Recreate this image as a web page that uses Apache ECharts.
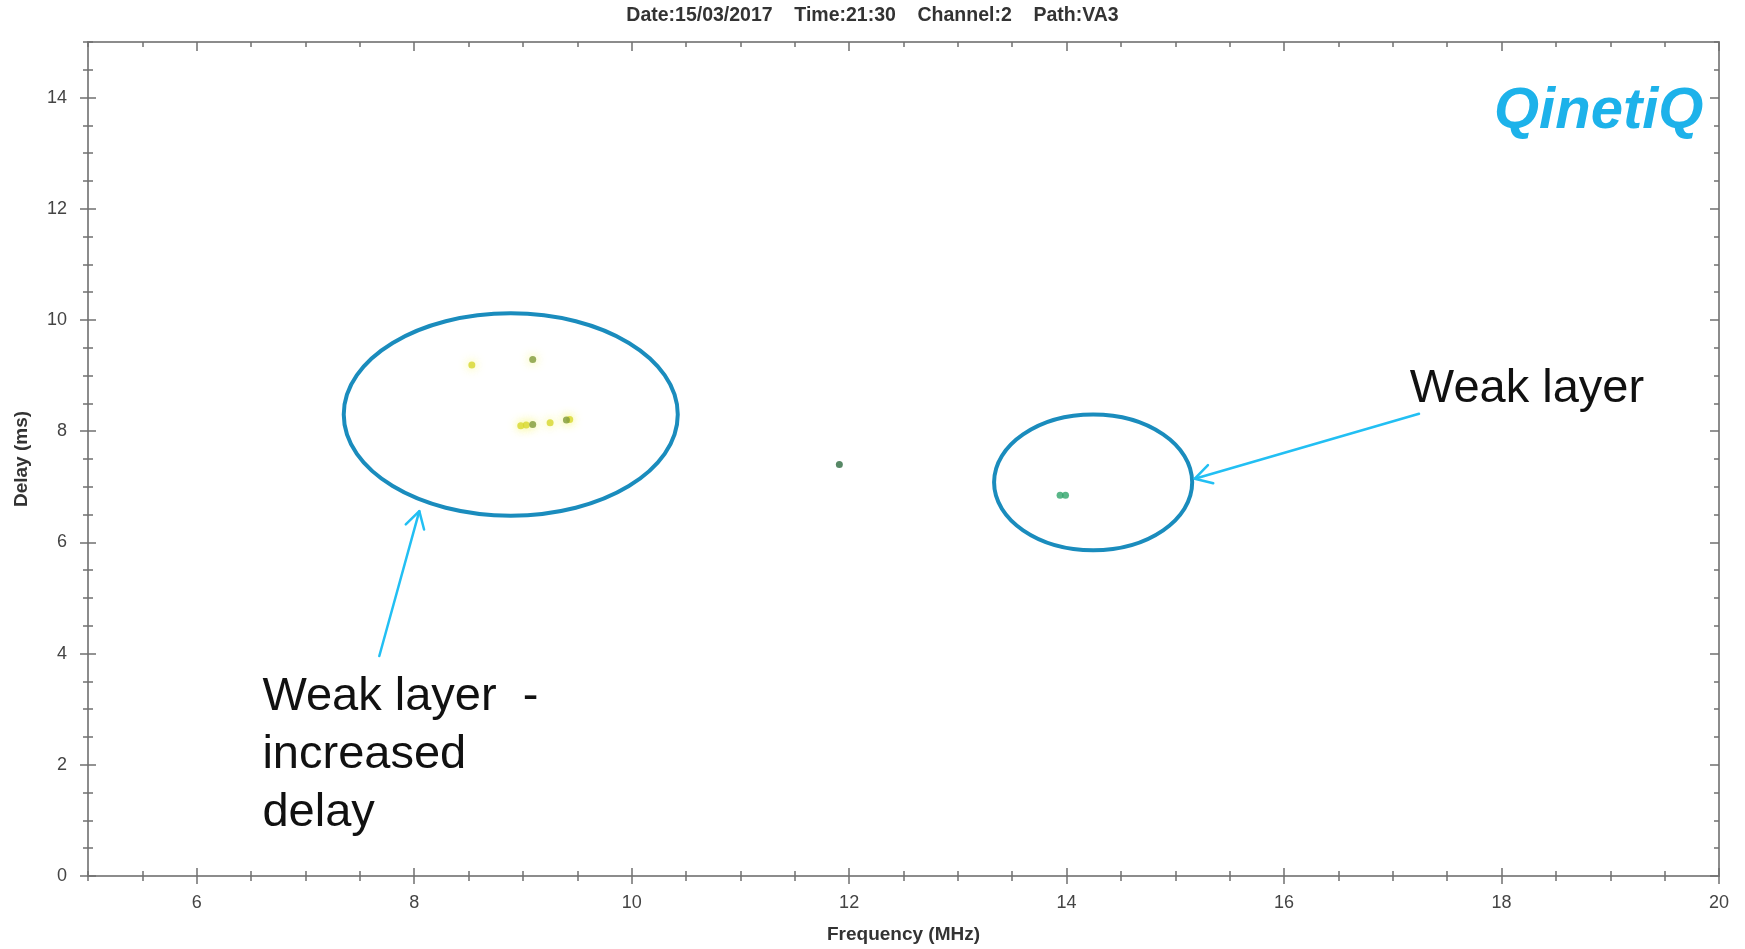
<!DOCTYPE html>
<html>
<head>
<meta charset="utf-8">
<script src="https://cdn.jsdelivr.net/npm/echarts@6/dist/echarts.min.js"></script>
<style>
html,body{margin:0;padding:0;background:#fff;}
#chart{width:1745px;height:949px;}
</style>
</head>
<body>
<div id="chart"></div>
<script>
// ---- data ----
const titleText = 'Date:15/03/2017    Time:21:30    Channel:2    Path:VA3';
const xTickLabels = [6, 8, 10, 12, 14, 16, 18, 20];
const yTickLabels = [0, 2, 4, 6, 8, 10, 12, 14];
const freqYellow = [8.53, 8.98, 9.03, 9.25, 9.43];
const delayYellow = [9.19, 8.10, 8.11, 8.15, 8.21];
const freqOlive = [9.09, 9.09, 9.40];
const delayOlive = [9.29, 8.12, 8.20];
const freqGreen = [11.91];
const delayGreen = [7.40];
const freqTeal = [13.94, 13.99];
const delayTeal = [6.85, 6.85];

// annotations in data units
const ellipses = [
  { cx: 8.888, cy: 8.30, rx: 1.536, ry: 1.82 },
  { cx: 14.244, cy: 7.08, rx: 0.911, ry: 1.22 }
];
const arrows = [
  { from: [7.679, 3.957], to: [8.047, 6.562] },
  { from: [17.241, 8.313], to: [15.179, 7.145] }
];
const notes = [
  { x: 17.157, y: 8.767, text: 'Weak layer' },
  { x: 6.604, y: 3.215, text: 'Weak layer  -' },
  { x: 6.604, y: 2.172, text: 'increased' },
  { x: 6.604, y: 1.130, text: 'delay' }
];

const FONT = '"Liberation Sans", Arial, sans-serif';
const zip = (a, b) => a.map((v, i) => [v, b[i]]);

const lineColor = '#8c8c8c';
const tickColor = '#707070';

function baseAxis(min, max, extra) {
  return Object.assign({
    type: 'value', min: min, max: max, interval: 0.5,
    splitLine: { show: false },
    axisLine: { show: false, onZero: false },
    axisTick: { show: false },
    axisLabel: { show: false }
  }, extra);
}
function tickStyle(len, inside, custom) {
  const t = { show: true, length: len, inside: inside, lineStyle: { color: tickColor, width: 1.5 } };
  if (custom) t.customValues = custom;
  return t;
}

const xAxes = [
  baseAxis(5, 20, {
    position: 'bottom',
    axisLine: { show: true, onZero: false, lineStyle: { color: lineColor, width: 2 } },
    axisLabel: { show: true, customValues: xTickLabels, color: '#444', fontSize: 18, margin: 18, fontFamily: FONT },
    name: 'Frequency (MHz)', nameLocation: 'middle', nameGap: 49,
    nameTextStyle: { fontWeight: 'bold', fontSize: 19, color: '#333', fontFamily: FONT }
  }),
  baseAxis(5, 20, { position: 'bottom', offset: -8, axisTick: tickStyle(16, false, xTickLabels) }),
  baseAxis(5, 20, { position: 'bottom', offset: -5, axisTick: tickStyle(10, false) }),
  baseAxis(5, 20, {
    position: 'top',
    axisLine: { show: true, onZero: false, lineStyle: { color: lineColor, width: 2 } },
    axisTick: tickStyle(5, true)
  }),
  baseAxis(5, 20, { position: 'top', axisTick: tickStyle(9, true, xTickLabels) })
];
const yAxes = [
  baseAxis(0, 15, {
    position: 'left',
    axisLine: { show: true, onZero: false, lineStyle: { color: lineColor, width: 2 } },
    axisLabel: { show: true, customValues: yTickLabels, color: '#444', fontSize: 18, margin: 21, fontFamily: FONT },
    name: 'Delay (ms)', nameLocation: 'middle', nameGap: 57,
    nameTextStyle: { fontWeight: 'bold', fontSize: 19, color: '#333', fontFamily: FONT }
  }),
  baseAxis(0, 15, { position: 'left', offset: -8, axisTick: tickStyle(16, false, yTickLabels) }),
  baseAxis(0, 15, { position: 'left', offset: -5, axisTick: tickStyle(10, false) }),
  baseAxis(0, 15, {
    position: 'right',
    axisLine: { show: true, onZero: false, lineStyle: { color: lineColor, width: 2 } },
    axisTick: tickStyle(5, true)
  }),
  baseAxis(0, 15, { position: 'right', axisTick: tickStyle(9, true, yTickLabels) })
];

const chart = echarts.init(document.getElementById('chart'));
chart.setOption({
  animation: false,
  backgroundColor: '#fff',
  title: {
    text: titleText, left: 'center', top: 6, padding: 0,
    textStyle: { fontSize: 19.5, fontWeight: 'bold', color: '#333', fontFamily: FONT }
  },
  grid: { left: 88, right: 26, top: 42, bottom: 73, containLabel: false },
  xAxis: xAxes,
  yAxis: yAxes,
  series: [
    { type: 'scatter', name: 'yellow', data: zip(freqYellow, delayYellow), symbolSize: 7,
      itemStyle: { color: '#d6d62c', shadowBlur: 10, shadowColor: 'rgba(245,245,60,0.9)' } },
    { type: 'scatter', name: 'olive', data: zip(freqOlive, delayOlive), symbolSize: 7,
      itemStyle: { color: '#7f9a3a', shadowBlur: 10, shadowColor: 'rgba(240,240,60,0.9)' } },
    { type: 'scatter', name: 'green', data: zip(freqGreen, delayGreen), symbolSize: 7,
      itemStyle: { color: '#2d6a40' } },
    { type: 'scatter', name: 'teal', data: zip(freqTeal, delayTeal), symbolSize: 7,
      itemStyle: { color: '#2fa46a' } }
  ]
});

function px(p) { return chart.convertToPixel({ xAxisIndex: 0, yAxisIndex: 0 }, p); }

const graphics = [];
ellipses.forEach(e => {
  const c = px([e.cx, e.cy]);
  const rxp = px([e.cx + e.rx, e.cy])[0] - c[0];
  const ryp = c[1] - px([e.cx, e.cy + e.ry])[1];
  graphics.push({ type: 'ellipse', shape: { cx: c[0], cy: c[1], rx: rxp, ry: ryp },
    style: { fill: 'none', stroke: '#1a8cbd', lineWidth: 4 }, z: 50 });
});
arrows.forEach(a => {
  const f = px(a.from), t = px(a.to);
  const dx = f[0] - t[0], dy = f[1] - t[1];
  const L = Math.sqrt(dx * dx + dy * dy);
  const ux = dx / L, uy = dy / L;
  const hl = 19, ang = Math.PI / 6;
  const rot = (x, y, a2) => [x * Math.cos(a2) - y * Math.sin(a2), x * Math.sin(a2) + y * Math.cos(a2)];
  const r1 = rot(ux, uy, ang), r2 = rot(ux, uy, -ang);
  const st = { stroke: '#22bff3', lineWidth: 2.5, fill: 'none', lineCap: 'round', lineJoin: 'round' };
  graphics.push({ type: 'line', shape: { x1: f[0], y1: f[1], x2: t[0], y2: t[1] }, style: st, z: 51 });
  graphics.push({ type: 'polyline', shape: { points: [
    [t[0] + r1[0] * hl, t[1] + r1[1] * hl], [t[0], t[1]], [t[0] + r2[0] * hl, t[1] + r2[1] * hl]
  ] }, style: st, z: 51 });
});
notes.forEach(n => {
  const p = px([n.x, n.y]);
  graphics.push({ type: 'text', x: p[0], y: p[1], z: 52,
    style: { text: n.text, fontSize: 47, fontFamily: FONT, fill: '#111', textAlign: 'left', textVerticalAlign: 'middle', verticalAlign: 'middle' } });
});
graphics.push({ type: 'text', x: 1494, y: 112, z: 52,
  style: { text: 'QinetiQ', fontSize: 58, fontWeight: 'bold', fontStyle: 'italic', fontFamily: FONT,
    fill: '#1db2ea', textAlign: 'left', textVerticalAlign: 'middle', verticalAlign: 'middle' } });

chart.setOption({ graphic: graphics });
</script>
</body>
</html>
